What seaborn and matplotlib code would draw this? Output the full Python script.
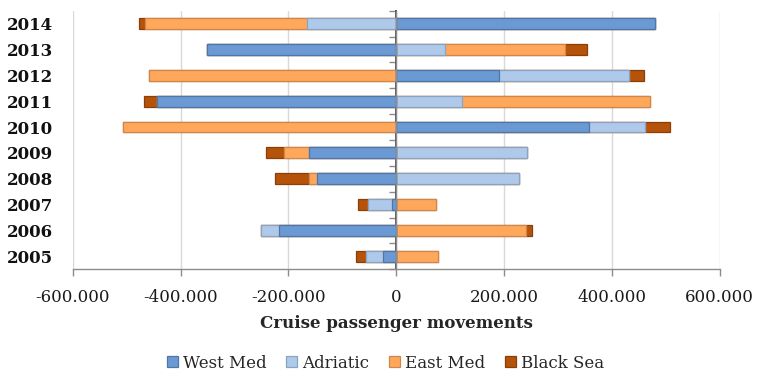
import numpy as np
import pandas as pd
import matplotlib
matplotlib.use("Agg")
import matplotlib.pyplot as plt
from matplotlib.patches import Patch
from matplotlib.ticker import FuncFormatter, MultipleLocator
import seaborn as sns

# Yearly change in cruise passenger movements by Mediterranean sub-region
years = ["2005", "2006", "2007", "2008", "2009", "2010", "2011", "2012", "2013", "2014"]
west_med = [-25000, -217000, -8000, -146000, -161000, 357000, -444000, 191000, -351000, 480000]
adriatic = [-31000, -34000, -44000, 227000, 243000, 104000, 122000, 241000, 91000, -166000]
east_med = [77000, 241000, 73000, -15000, -48000, -506000, 348000, -459000, 222000, -299000]
black_sea = [-19000, 10000, -19000, -63000, -32000, 47000, -23000, 28000, 41000, -12000]

regions = ["West Med", "Adriatic", "East Med", "Black Sea"]
fills = {"West Med": "#6A99D3", "Adriatic": "#AEC9EA", "East Med": "#FFA85C", "Black Sea": "#B5530A"}
edges = {"West Med": "#4F76A8", "Adriatic": "#8AA3C2", "East Med": "#D0874A", "Black Sea": "#8A3F08"}

df = pd.DataFrame({"West Med": west_med, "Adriatic": adriatic,
                   "East Med": east_med, "Black Sea": black_sea}, index=years)
# positive and negative values stack outward from zero separately
pos_stack = df.clip(lower=0).cumsum(axis=1)
neg_stack = df.clip(upper=0).cumsum(axis=1)

sns.set_theme(style="white")
plt.rcParams["font.family"] = ["DejaVu Serif"]

fig = plt.figure(figsize=(7.59, 3.74), dpi=100)
ax = fig.add_axes([0.0958, 0.28, 0.8524, 0.6914])

order = years[::-1]
for name in regions[::-1]:
    for stack in (pos_stack, neg_stack):
        sns.barplot(x=stack[name].values, y=years, order=order, orient="h",
                    color=fills[name], saturation=1, width=0.42,
                    edgecolor=edges[name], linewidth=0.9, errorbar=None, ax=ax)

ax.set_xlim(-600000, 600000)
ax.set_ylim(len(years) - 0.5, -0.5)
ax.xaxis.set_major_locator(MultipleLocator(200000))
ax.xaxis.set_major_formatter(FuncFormatter(
    lambda v, _: "0" if v == 0 else f"{int(v):,}".replace(",", ".")))
ax.grid(axis="x", color="#D9D9D9", linewidth=1)
ax.set_axisbelow(True)

for side in ("top", "right", "left"):
    ax.spines[side].set_visible(False)
ax.spines["bottom"].set_color("#8C8C8C")
ax.spines["bottom"].set_linewidth(1)

ax.tick_params(axis="x", bottom=True, length=5, width=1, color="#8C8C8C",
               labelsize=12, pad=9, labelcolor="#1a1a1a")
ax.tick_params(axis="y", left=False, length=0, labelsize=12, pad=14, labelcolor="#111111")
for lab in ax.get_yticklabels():
    lab.set_fontweight("bold")
ax.set_ylabel("")
ax.set_xlabel("Cruise passenger movements", fontsize=12, fontweight="bold", labelpad=7)

# category axis drawn through zero with boundary ticks
ax.axvline(0, color="#8C8C8C", linewidth=1, zorder=5)
zero_axis = ax.secondary_yaxis(0.5)
zero_axis.set_yticks(np.arange(len(years) + 1) - 0.5)
zero_axis.set_yticklabels([])
zero_axis.tick_params(axis="y", direction="in", length=5, width=1, color="#8C8C8C")
zero_axis.spines["left"].set_visible(False)

handles = [Patch(facecolor=fills[n], edgecolor=edges[n], linewidth=0.9, label=n) for n in regions]
fig.legend(handles=handles, loc="center", bbox_to_anchor=(0.508, 1 - 363 / 374), ncol=4,
           frameon=False, fontsize=12, handlelength=0.65, handleheight=0.65,
           handletextpad=0.3, columnspacing=1.2)

fig.savefig("out.png", dpi=100)
